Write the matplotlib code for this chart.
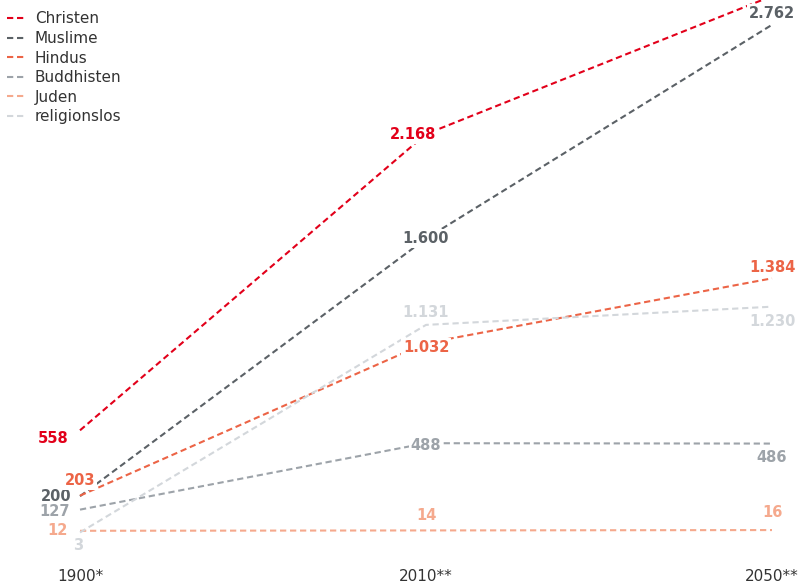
import matplotlib
matplotlib.use("Agg")
import matplotlib.pyplot as plt

# data (Mio. Anhaenger)
years = ["1900*", "2010**", "2050**"]
religions = ["Christen", "Muslime", "Hindus", "Buddhisten", "Juden", "religionslos"]
christen = [558, 2168, 2918]
muslime = [200, 1600, 2762]
hindus = [203, 1032, 1384]
buddhisten = [127, 488, 486]
juden = [12, 14, 16]
religionslos = [3, 1131, 1230]
# labels shown at the points (None = no label)
christen_lbl = ["558", "2.168", None]
muslime_lbl = ["200", "1.600", "2.762"]
hindus_lbl = ["203", "1.032", "1.384"]
buddhisten_lbl = ["127", "488", "486"]
juden_lbl = ["12", "14", "16"]
religionslos_lbl = ["3", "1.131", "1.230"]

colors = ["#e2001a", "#5b6166", "#ec6446", "#9da3a9", "#f5a98d", "#d3d7db"]

series = [christen, muslime, hindus, buddhisten, juden, religionslos]
labels = [christen_lbl, muslime_lbl, hindus_lbl, buddhisten_lbl, juden_lbl, religionslos_lbl]

# label offsets in points (dx, dy, ha, white box)
offsets = [
    [(-8, -6, "right", False), (-9, 0, "center", True), None],
    [(-6, 0, "right", False), (0, 0, "center", True), (0, 8, "center", True)],
    [(0, 11, "center", True), (0, -3, "center", True), (0, 8, "center", False)],
    [(-7, -1.5, "right", False), (0, -2, "center", True), (0, -10, "center", False)],
    [(-9, 0, "right", False), (0, 11, "center", False), (0, 13, "center", False)],
    [(-1.5, -9.5, "center", False), (0, 9, "center", False), (0, -11, "center", False)],
]

fig = plt.figure(figsize=(8, 5.84), dpi=100)
ax = fig.add_axes([0, 34 / 584, 1, 550 / 584])

x = range(len(years))
for vals, col, name in zip(series, colors, religions):
    ax.plot(x, vals, color=col, lw=1.5, dashes=(3, 1.8), label=name, zorder=2,
            dash_capstyle="butt")

for vals, lbls, offs, col in zip(series, labels, offsets, colors):
    for i in range(len(vals)):
        if lbls[i] is None:
            continue
        dx, dy, ha, box = offs[i]
        kw = {}
        if box:
            kw["bbox"] = dict(facecolor="white", edgecolor="none", pad=1.5)
        ax.annotate(lbls[i], (i, vals[i]), xytext=(dx, dy), textcoords="offset points",
                    ha=ha, va="center", color=col, fontsize=10.5, fontweight="bold",
                    zorder=5, **kw)

scale = 0.184
ax.set_ylim((533 - 550) / scale, 533 / scale)
ax.set_xlim(-80 / 346, 2 + 28 / 346)
ax.set_xticks(list(x))
ax.set_xticklabels(years, fontsize=11, color="#333333")
ax.tick_params(axis="x", length=0, pad=14)
ax.set_yticks([])
for s in ax.spines.values():
    s.set_visible(False)

leg = ax.legend(loc="upper left", bbox_to_anchor=(-4 / 800, 1.0), frameon=False,
                fontsize=11, handlelength=1.2, handletextpad=0.6,
                labelspacing=0.3, borderaxespad=0.55, borderpad=0.2)
for t in leg.get_texts():
    t.set_color("#333333")

fig.savefig("out.png", dpi=100)
